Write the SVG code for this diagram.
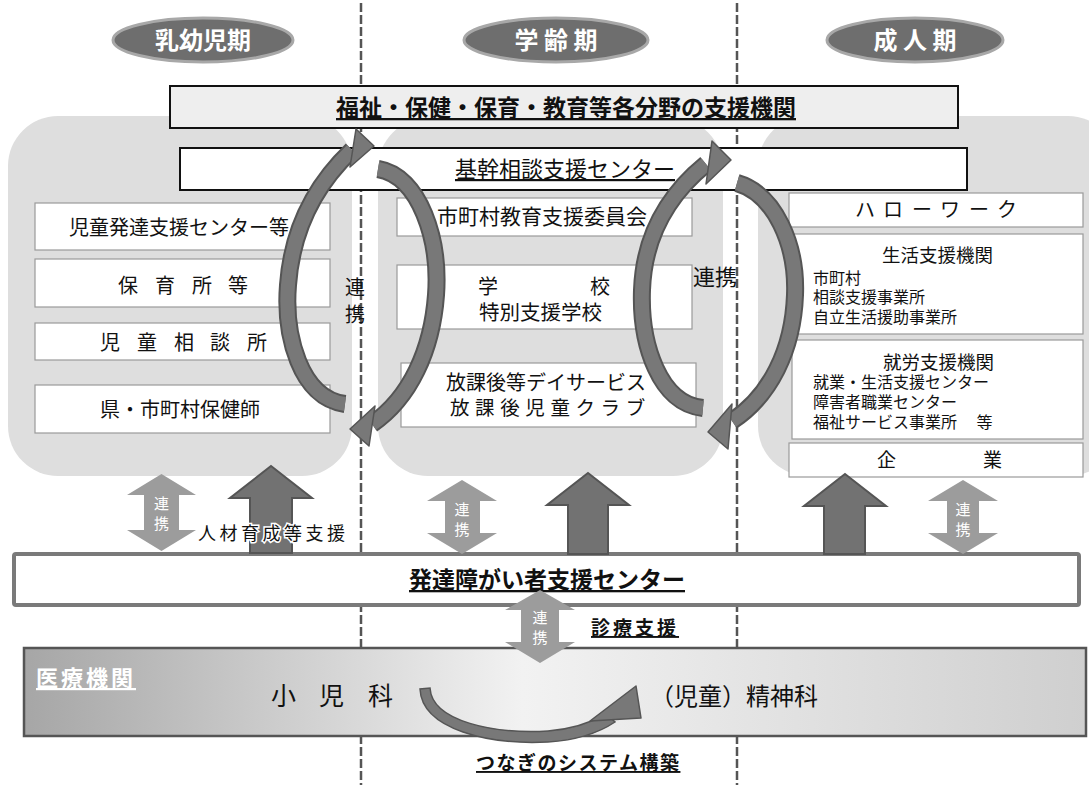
<svg xmlns="http://www.w3.org/2000/svg" width="1089" height="788" viewBox="0 0 1089 788">
<defs>
<linearGradient id="medGrad" x1="0" y1="0" x2="1" y2="0">
<stop offset="0" stop-color="#a6a6a6"/><stop offset="0.47" stop-color="#f2f2f2"/><stop offset="1" stop-color="#cfcfcf"/>
</linearGradient>
</defs>
<style>
text{font-family:"Noto Sans CJK JP","Noto Sans CJK SC",sans-serif;fill:#111}
.region{fill:#dedede}
.box{fill:#fff;stroke:#9a9a9a;stroke-width:1.2}
.bbox{fill:#fff;stroke:#111;stroke-width:2}
.phase{fill:#6e6e6e;stroke:#a8a8a8;stroke-width:3}
.phaseT{fill:#fff;font-size:24px;font-weight:bold}
.dots{stroke:#555;stroke-width:2.5;stroke-dasharray:9 3;fill:none}
.so{fill:none;stroke:#555;stroke-width:18}
.si{fill:none;stroke:#787878;stroke-width:14}
.chead{fill:#787878;stroke:#555;stroke-width:1.5;stroke-linejoin:round}
.up{fill:#727272;stroke:#555;stroke-width:2}
.dbl{fill:#9c9c9c}
.dblT{fill:#fff;font-size:15px}
.u{text-decoration:underline}
.b{font-weight:bold}
</style>

<g id="regions">
<rect class="region" x="8" y="116" width="344" height="360" rx="50"/>
<rect class="region" x="378" y="118" width="345" height="358" rx="50"/>
<rect class="region" x="758" y="116" width="360" height="360" rx="50"/>
</g>

<g id="dividers">
<line class="dots" x1="361" y1="3" x2="361" y2="785"/>
<line class="dots" x1="737" y1="3" x2="737" y2="785"/>
</g>

<g id="phase-infant"><ellipse class="phase" cx="203" cy="40" rx="90" ry="22"/><text class="phaseT" x="203" y="49" text-anchor="middle">乳幼児期</text></g>
<g id="phase-school"><ellipse class="phase" cx="556" cy="40" rx="92" ry="22"/><text class="phaseT" x="556" y="49" text-anchor="middle">学 齢 期</text></g>
<g id="phase-adult"><ellipse class="phase" cx="915" cy="40" rx="88" ry="22"/><text class="phaseT" x="915" y="49" text-anchor="middle">成 人 期</text></g>

<g id="welfare"><rect x="170" y="86" width="788" height="42" fill="#eeeeee" stroke="#111" stroke-width="2"/><text class="b u" x="566" y="116" font-size="23" text-anchor="middle">福祉・保健・保育・教育等各分野の支援機関</text></g>
<g id="kikan"><rect class="bbox" x="180" y="148" width="787" height="42"/><text class="u" x="565" y="177" font-size="22" text-anchor="middle">基幹相談支援センター</text></g>

<g id="jido-hattatsu"><rect class="box" x="35" y="203" width="295" height="47"/><text x="69" y="235" font-size="20">児童発達支援センター等</text></g>
<g id="hoikusho"><rect class="box" x="35" y="259" width="295" height="48"/><text y="293" font-size="20"><tspan x="118">保</tspan><tspan x="155">育</tspan><tspan x="192">所</tspan><tspan x="228">等</tspan></text></g>
<g id="jido-sodan"><rect class="box" x="35" y="323" width="295" height="37"/><text y="350" font-size="20"><tspan x="100">児</tspan><tspan x="137">童</tspan><tspan x="174">相</tspan><tspan x="210">談</tspan><tspan x="247">所</tspan></text></g>
<g id="hokenshi"><rect class="box" x="35" y="385" width="295" height="48"/><text x="100" y="417" font-size="20">県・市町村保健師</text></g>

<g id="kyoiku-iinkai"><rect class="box" x="397" y="198" width="295" height="38"/><text x="437" y="224" font-size="21">市町村教育支援委員会</text></g>
<g id="gakko"><rect class="box" x="397" y="265" width="295" height="64"/><text y="294" font-size="20"><tspan x="478">学</tspan><tspan x="590">校</tspan></text><text x="479" y="320" font-size="20.5">特別支援学校</text></g>
<g id="houkago"><rect class="box" x="401" y="363" width="295" height="64"/><text x="446" y="390" font-size="20">放課後等デイサービス</text><text x="450" y="415" font-size="19.5" letter-spacing="5.6">放課後児童クラブ</text></g>

<g id="hellowork"><rect class="box" x="789" y="193" width="294" height="34"/><text y="217" font-size="20"><tspan x="855">ハ</tspan><tspan x="883">ロ</tspan><tspan x="912">ー</tspan><tspan x="940">ワ</tspan><tspan x="969">ー</tspan><tspan x="997">ク</tspan></text></g>
<g id="seikatsu"><rect class="box" x="789" y="234" width="294" height="100"/><text x="882" y="262" font-size="18.5">生活支援機関</text><text x="813" y="284" font-size="16">市町村</text><text x="813" y="303" font-size="16">相談支援事業所</text><text x="813" y="323" font-size="16">自立生活援助事業所</text></g>
<g id="shuro"><rect class="box" x="792" y="340" width="291" height="99"/><text x="883" y="369" font-size="18.5">就労支援機関</text><text x="813" y="388" font-size="16">就業・生活支援センター</text><text x="813" y="408" font-size="16">障害者職業センター</text><text x="813" y="428" font-size="16">福祉サービス事業所　 等</text></g>
<g id="kigyo"><rect class="box" x="789" y="443" width="294" height="34"/><text y="467" font-size="19"><tspan x="877">企</tspan><tspan x="983">業</tspan></text></g>

<g id="hattatsu-center"><rect x="14" y="554" width="1065" height="51" fill="#fff" stroke="#7a7a7a" stroke-width="4" rx="2"/><text class="b u" x="547" y="588" font-size="23" text-anchor="middle">発達障がい者支援センター</text></g>

<g id="iryo"><rect x="24" y="648" width="1062" height="88" fill="url(#medGrad)" stroke="#555" stroke-width="2.5"/><text class="b u" x="36" y="686" font-size="22" letter-spacing="3" style="fill:#fff">医療機関</text><text y="705" font-size="25"><tspan x="271">小</tspan><tspan x="319">児</tspan><tspan x="368">科</tspan></text><text x="650" y="705" font-size="24">（児童）精神科</text></g>

<g id="connectors">
<path class="so" d="M345,404 C300,398 284,335 288,285 C292,230 315,185 352,150"/>
<path class="si" d="M345,404 C300,398 284,335 288,285 C292,230 315,185 352,150"/>
<polygon class="chead" points="356,129 374,146 350,167"/>
<path class="so" d="M378,169 C420,176 440,240 436,295 C432,350 410,398 372,424"/>
<path class="si" d="M378,169 C420,176 440,240 436,295 C432,350 410,398 372,424"/>
<polygon class="chead" points="375,406 350,429 369,446"/>
<path class="so" d="M703,408 C660,404 640,345 642,290 C644,235 668,195 706,164"/>
<path class="si" d="M703,408 C660,404 640,345 642,290 C644,235 668,195 706,164"/>
<polygon class="chead" points="712,141 731,160 706,184"/>
<path class="so" d="M737,183 C775,194 797,245 795,295 C793,350 770,396 732,421"/>
<path class="si" d="M737,183 C775,194 797,245 795,295 C793,350 770,396 732,421"/>
<polygon class="chead" points="732,404 708,432 728,449"/>

<polygon class="dbl" points="161.5,474 196,495 179,495 179,530 196,530 161.5,551 127,530 144,530 144,495 127,495"/>
<polygon class="dbl" points="462,480 497,501 480,501 480,533 497,533 462,554 427,533 445,533 445,501 427,501"/>
<polygon class="dbl" points="963,480 998,501 979,501 979,533 998,533 963,554 928,533 947,533 947,501 928,501"/>
<polygon class="dbl" points="540,590 575,610 559,610 559,642 575,642 540,663 505,642 521,642 521,610 505,610"/>
<polygon class="up" points="271,466 312,498 292,498 292,553 250,553 250,498 230,498"/>
<polygon class="up" points="588,473 629,505 608,505 608,554 568,554 568,505 547,505"/>
<polygon class="up" points="845,474 886,506 865,506 865,554 824,554 824,506 804,506"/>
<path d="M420,689 C422,730 490,745 548,742 C580,740 600,732 615,722 L606,714 C592,722 575,729 548,731 C495,734 432,722 430,688 Z" fill="#787878" stroke="#555" stroke-width="1.5"/>
<polygon class="chead" points="590,721 636,686 641,718"/>
</g>

<g id="labels">
<text x="355" y="295" font-size="20" text-anchor="middle">連</text>
<text x="355" y="322" font-size="20" text-anchor="middle">携</text>
<text x="693" y="285" font-size="22">連携</text>
<text class="dblT" x="161.5" y="509" text-anchor="middle">連</text><text class="dblT" x="161.5" y="529" text-anchor="middle">携</text>
<text class="dblT" x="462" y="515" text-anchor="middle">連</text><text class="dblT" x="462" y="535" text-anchor="middle">携</text>
<text class="dblT" x="963" y="515" text-anchor="middle">連</text><text class="dblT" x="963" y="535" text-anchor="middle">携</text>
<text class="dblT" x="540" y="623" text-anchor="middle">連</text><text class="dblT" x="540" y="643" text-anchor="middle">携</text>
<text x="198" y="540" font-size="18" letter-spacing="3.5" stroke="#fff" stroke-width="3" paint-order="stroke">人材育成等支援</text>
<text class="b u" x="591" y="635" font-size="19" letter-spacing="3">診療支援</text>
<text class="b u" x="476" y="770" font-size="19" letter-spacing="1.5">つなぎのシステム構築</text>
</g>
</svg>
